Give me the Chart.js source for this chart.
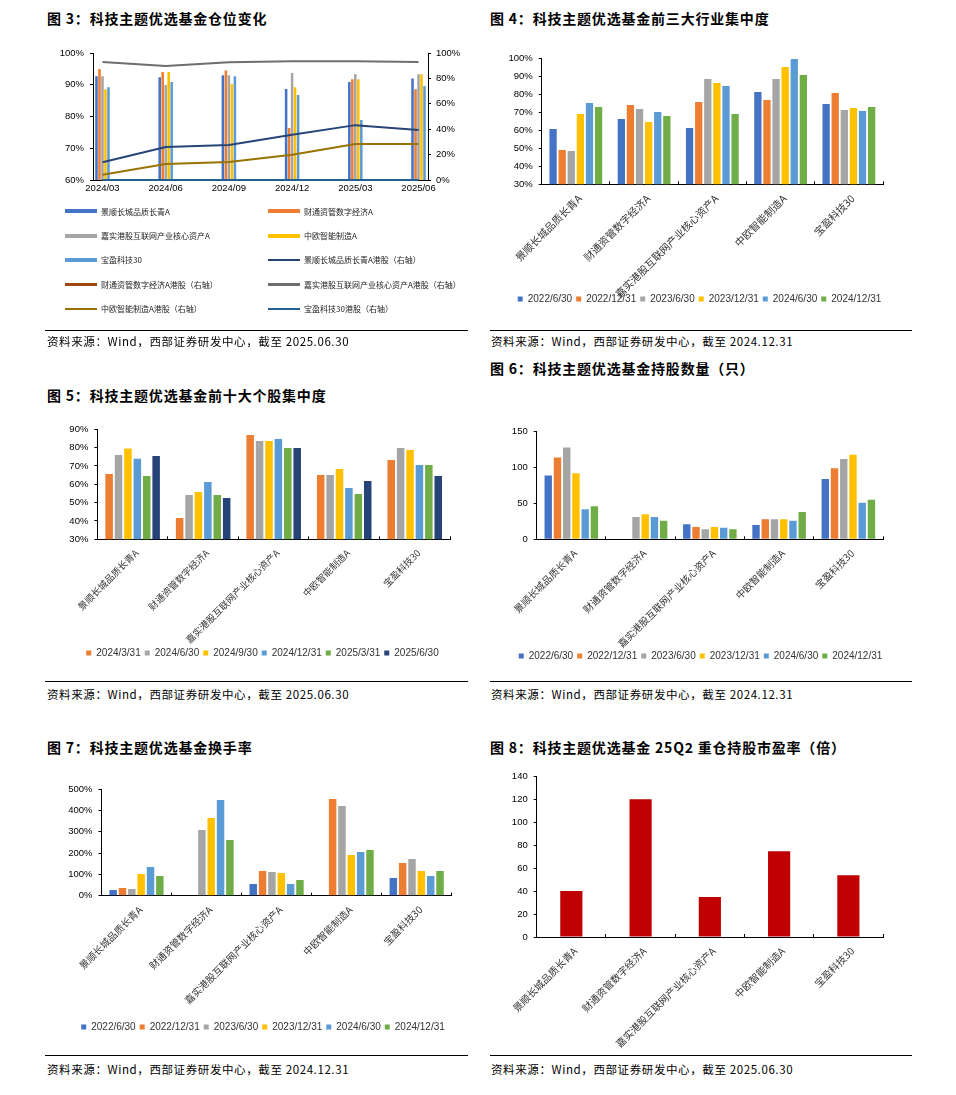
<!DOCTYPE html>
<html>
<head>
<meta charset="utf-8">
<script src="https://cdn.jsdelivr.net/npm/chart.js@4.4.1/dist/chart.umd.min.js"></script>
<style>
  body { margin: 0; background: #fff; width: 956px; height: 1095px; position: relative; overflow: hidden;
         font-family: "Noto Sans CJK SC", sans-serif; color: #000; }
  .title { position: absolute; font-size: 14px; font-weight: bold; letter-spacing: 0.8px; line-height: 20px; white-space: nowrap; }
  .src { position: absolute; font-size: 11.5px; letter-spacing: 0.6px; line-height: 16px; white-space: nowrap; }
  .rule { position: absolute; height: 1px; background: #000; }
  canvas { position: absolute; }
  #lg1 { position: absolute; left: 65px; top: 199px; display: grid; grid-template-columns: 203px 200px; grid-auto-rows: 24.4px; }
  #lg1 .li { display: flex; align-items: center; font-size: 8px; color: #222; white-space: nowrap; }
  #lg1 .sw { display: inline-block; width: 32px; margin-right: 4px; }
</style>
</head>
<body>

<div class="title" style="left:47px;top:8px">图 3：科技主题优选基金仓位变化</div>
<div class="title" style="left:490px;top:8px">图 4：科技主题优选基金前三大行业集中度</div>
<div class="title" style="left:47px;top:385px">图 5：科技主题优选基金前十大个股集中度</div>
<div class="title" style="left:490px;top:358px">图 6：科技主题优选基金持股数量（只）</div>
<div class="title" style="left:47px;top:737px">图 7：科技主题优选基金换手率</div>
<div class="title" style="left:490px;top:737px">图 8：科技主题优选基金 25Q2 重仓持股市盈率（倍）</div>

<canvas id="c1" width="425" height="160" style="left:45px;top:40px"></canvas>
<div id="lg1"></div>
<canvas id="c2" width="419" height="269" style="left:490px;top:45px"></canvas>
<canvas id="c3" width="403" height="253" style="left:61px;top:415px"></canvas>
<canvas id="c4" width="421" height="251" style="left:490px;top:420px"></canvas>
<canvas id="c5" width="402" height="267" style="left:62px;top:775px"></canvas>
<canvas id="c6" width="422" height="285" style="left:490px;top:765px"></canvas>

<div class="rule" style="left:45px;top:330px;width:423px"></div>
<div class="rule" style="left:490px;top:330px;width:422px"></div>
<div class="src" style="left:47px;top:333px">资料来源：Wind，西部证券研发中心，截至 2025.06.30</div>
<div class="src" style="left:491px;top:333px">资料来源：Wind，西部证券研发中心，截至 2024.12.31</div>

<div class="rule" style="left:45px;top:681px;width:423px"></div>
<div class="rule" style="left:490px;top:681px;width:422px"></div>
<div class="src" style="left:47px;top:686px">资料来源：Wind，西部证券研发中心，截至 2025.06.30</div>
<div class="src" style="left:491px;top:686px">资料来源：Wind，西部证券研发中心，截至 2024.12.31</div>

<div class="rule" style="left:45px;top:1055px;width:423px"></div>
<div class="rule" style="left:490px;top:1055px;width:422px"></div>
<div class="src" style="left:47px;top:1061px">资料来源：Wind，西部证券研发中心，截至 2024.12.31</div>
<div class="src" style="left:491px;top:1061px">资料来源：Wind，西部证券研发中心，截至 2025.06.30</div>

<script>
// ---- data ----
const funds = ['景顺长城品质长青A', '财通资管数字经济A', '嘉实港股互联网产业核心资产A', '中欧智能制造A', '宝盈科技30'];

// fig 3: stock position (left axis) and HK share (right axis), per quarter
const quarters = ['2024/03', '2024/06', '2024/09', '2024/12', '2025/03', '2025/06'];
const posJingshun = [92.7, 92.4, 93.0, 88.7, 90.9, 92.0];
const posCaitong  = [95.0, 94.0, 94.5, 76.4, 91.7, 88.6];
const posJiashi   = [92.7, 89.9, 93.0, 93.7, 93.3, 93.3];
const posZhongou  = [88.6, 94.0, 90.2, 89.2, 91.7, 93.3];
const posBaoying  = [89.2, 90.9, 92.7, 86.8, 78.9, 89.6];
const hkJingshun = [13.9, 25.9, 27.5, 35.6, 43.2, 39.3];
const hkCaitong  = [0, 0, 0, 0, 0, 0];
const hkJiashi   = [92.9, 89.8, 92.7, 93.5, 93.5, 92.9];
const hkZhongou  = [4.2, 12.6, 14.1, 19.9, 28.3, 28.3];
const hkBaoying  = [0, 0, 0, 0, 0, 0];

// half-year report dates (fig 4, 6, 7)
const halfDates = ['2022/6/30', '2022/12/31', '2023/6/30', '2023/12/31', '2024/6/30', '2024/12/31'];
// quarter dates (fig 5)
const qtrDates = ['2024/3/31', '2024/6/30', '2024/9/30', '2024/12/31', '2025/3/31', '2025/6/30'];

// fig 4: top-3 industry concentration (%), one array per date, values per fund
const ind2206 = [60.7, 66.3, 61.3, 81.3, 74.6];
const ind2212 = [49.1, 74.1, 75.7, 76.9, 80.7];
const ind2306 = [48.5, 71.9, 88.5, 88.5, 71.3];
const ind2312 = [69.1, 64.6, 86.3, 95.2, 72.4];
const ind2406 = [75.2, 70.2, 84.6, 99.6, 70.7];
const ind2412 = [73.0, 68.0, 69.1, 90.7, 73.0];

// fig 5: top-10 stock concentration (%)
const top2403 = [65.6, 41.6, 86.9, 65.1, 73.3];
const top2406 = [76.0, 54.2, 83.6, 65.1, 79.8];
const top2409 = [79.5, 55.8, 83.6, 68.4, 78.7];
const top2412 = [74.0, 61.3, 84.7, 58.0, 70.5];
const top2503 = [64.5, 54.2, 79.8, 54.7, 70.5];
const top2506 = [75.5, 52.5, 79.8, 61.8, 64.5];

// fig 6: number of holdings
const cnt2206 = [89, null, 21, 20, 84];
const cnt2212 = [114, null, 17, 28, 99];
const cnt2306 = [128, 31, 14, 28, 112];
const cnt2312 = [92, 35, 17, 28, 118];
const cnt2406 = [42, 31, 16, 26, 51];
const cnt2412 = [46, 26, 14, 38, 55];

// fig 7: turnover (%)
const to2206 = [26.6, null, 54.7, null, 82.8];
const to2212 = [35.9, null, 115.6, 453.1, 153.1];
const to2306 = [31.3, 307.8, 110.9, 420.3, 171.9];
const to2312 = [101.6, 364.1, 106.3, 190.6, 115.6];
const to2406 = [134.4, 448.4, 54.7, 204.7, 92.2];
const to2412 = [92.2, 260.9, 73.4, 214.1, 115.6];

// fig 8: PE of top holdings, 25Q2
const pe25q2 = [40.1, 120.2, 34.9, 74.9, 54.0];

// ---- styling ----
const BLUE = '#4472C4', ORANGE = '#ED7D31', GRAY = '#A5A5A5', YELLOW = '#FFC000',
      LBLUE = '#5B9BD5', GREEN = '#70AD47', NAVY = '#264478';
const halfColors = [BLUE, ORANGE, GRAY, YELLOW, LBLUE, GREEN];
const qtrColors = [ORANGE, GRAY, YELLOW, LBLUE, GREEN, NAVY];

Chart.defaults.font.family = '"Liberation Sans", Arial, sans-serif';
Chart.defaults.color = '#222';
Chart.defaults.animation = false;

const numFont = {size: 9.5};
const pct = v => v + '%';

// ---- fig 3 ----
const xy = arr => arr.map((v, i) => ({x: i, y: v}));
const posSeries = [posJingshun, posCaitong, posJiashi, posZhongou, posBaoying];
const hkSeries = [hkJingshun, hkCaitong, hkJiashi, hkZhongou, hkBaoying];
const lineColors = ['#264478', '#9E480E', '#6E6E6E', '#997300', '#255E91'];

const chart1 = new Chart(document.getElementById('c1'), {
  type: 'bar',
  data: {
    datasets: [
      ...posSeries.map((s, i) => ({
        label: funds[i], data: xy(s), backgroundColor: [BLUE, ORANGE, GRAY, YELLOW, LBLUE][i],
        yAxisID: 'y', order: 10, categoryPercentage: 0.237, barPercentage: 0.85
      })),
      ...hkSeries.map((s, i) => ({
        type: 'line', label: funds[i] + '港股（右轴）', data: xy(s), borderColor: lineColors[i],
        backgroundColor: lineColors[i], borderWidth: 2, pointRadius: 0, yAxisID: 'y1',
        order: i === 4 ? 0 : 1, clip: false
      }))
    ]
  },
  options: {
    responsive: false,
    layout: {padding: {top: 13, left: 0, right: 0, bottom: 0}},
    plugins: {legend: {display: false}, tooltip: {enabled: false}},
    scales: {
      x: {
        type: 'linear', min: -0.15, max: 5.15, offset: false,
        afterBuildTicks: s => { s.ticks = quarters.map((q, i) => ({value: i})); },
        ticks: {callback: v => quarters[v], font: numFont, color: '#000', padding: 3, autoSkip: false, maxRotation: 0},
        grid: {display: false, drawTicks: false}, border: {color: '#000'},
        afterFit: s => { s.height = 20; }
      },
      y: {
        position: 'left', min: 60, max: 100,
        ticks: {stepSize: 10, callback: pct, font: numFont, color: '#000', padding: 6},
        grid: {drawOnChartArea: false, tickLength: 3, color: '#000'}, border: {color: '#000'},
        afterFit: s => { s.width = 48; }
      },
      y1: {
        position: 'right', min: 0, max: 100,
        ticks: {stepSize: 20, callback: pct, font: numFont, color: '#000', padding: 5},
        grid: {drawOnChartArea: false, tickLength: 3, color: '#000'}, border: {color: '#000'},
        afterFit: s => { s.width = 42; }
      }
    }
  }
});

// html legend for fig 3 (two columns)
const lg = document.getElementById('lg1');
chart1.data.datasets.forEach(ds => {
  const item = document.createElement('div');
  item.className = 'li';
  const sw = document.createElement('span');
  sw.className = 'sw';
  const isLine = ds.type === 'line';
  sw.style.height = isLine ? '2.5px' : '4px';
  sw.style.background = isLine ? ds.borderColor : ds.backgroundColor;
  item.appendChild(sw);
  item.appendChild(document.createTextNode(ds.label));
  lg.appendChild(item);
});

// ---- grouped bar charts ----
// box: top padding, y-axis width (yw), right gutter width (rw), x-axis height (xh), label font size (fs)
function groupChart(id, series, names, colors, y, box) {
  return new Chart(document.getElementById(id), {
    type: 'bar',
    data: {
      labels: funds,
      datasets: series.map((s, i) => ({
        label: names[i], data: s, backgroundColor: colors[i],
        categoryPercentage: box.cat || 0.8, barPercentage: box.bar || 0.8
      }))
    },
    options: {
      responsive: false,
      layout: {padding: {top: box.top, right: 0, left: 0, bottom: 0}},
      plugins: {
        legend: {
          display: box.legend !== false, position: 'bottom',
          labels: {boxWidth: 5, boxHeight: 5, padding: 4, font: {size: 10}, color: '#333'}
        },
        tooltip: {enabled: false}
      },
      scales: {
        x: {
          grid: {drawOnChartArea: false, offset: true, tickLength: -3, color: '#000'},
          border: {color: '#000'},
          ticks: {minRotation: 45, maxRotation: 45, autoSkip: false, padding: 11, labelOffset: 4,
                  font: {size: box.fs || 10, family: '"Noto Sans CJK SC", sans-serif'}, color: '#333'},
          afterFit: s => { s.height = box.xh; s._computeLabelArea = () => undefined; }
        },
        y: {
          min: y.min, max: y.max,
          ticks: {stepSize: y.step, callback: y.fmt, font: numFont, color: '#000', padding: 6},
          grid: {drawOnChartArea: false, tickLength: 3, color: '#000'},
          border: {color: '#000'},
          afterFit: s => { s.width = box.yw; }
        },
        gutter: {
          position: 'right', display: true,
          ticks: {display: false}, grid: {display: false}, border: {display: false},
          afterFit: s => { s.width = box.rw; }
        }
      }
    }
  });
}

groupChart('c2', [ind2206, ind2212, ind2306, ind2312, ind2406, ind2412], halfDates, halfColors,
  {min: 30, max: 100, step: 10, fmt: pct}, {top: 13.3, yw: 51.7, rw: 26, xh: 105.7, fs: 10.3});

groupChart('c3', [top2403, top2406, top2409, top2412, top2503, top2506], qtrDates, qtrColors,
  {min: 30, max: 90, step: 10, fmt: pct}, {top: 14.3, yw: 35.7, rw: 14, xh: 104.7, fs: 9.4});

groupChart('c4', [cnt2206, cnt2212, cnt2306, cnt2312, cnt2406, cnt2412], halfDates, halfColors,
  {min: 0, max: 150, step: 50, fmt: v => v}, {top: 11.3, yw: 46.7, rw: 28, xh: 107.7, fs: 9.8});

groupChart('c5', [to2206, to2212, to2306, to2312, to2406, to2412], halfDates, halfColors,
  {min: 0, max: 500, step: 100, fmt: pct}, {top: 14, yw: 38.7, rw: 12.3, xh: 122.3, fs: 9.8});

groupChart('c6', [pe25q2], ['市盈率'], ['#C00000'],
  {min: 0, max: 140, step: 20, fmt: v => v}, {top: 11.3, yw: 46.7, rw: 29, xh: 113, legend: false, cat: 1, bar: 0.32, fs: 10});
</script>
</body>
</html>
